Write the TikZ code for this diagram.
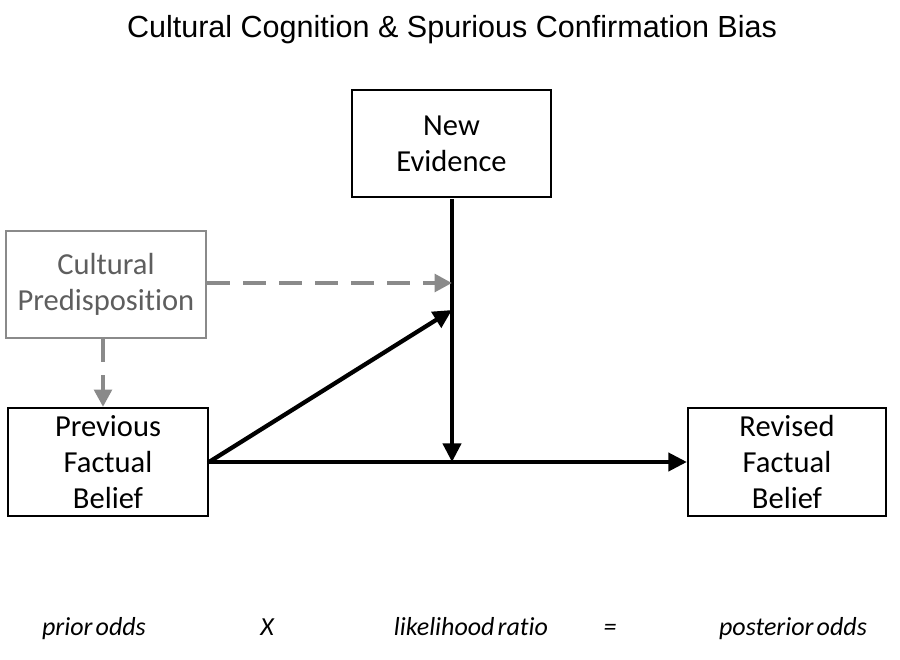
\documentclass[tikz,border=0pt]{standalone}
\usepackage{fontspec}
\setmainfont{Carlito}[Ligatures={NoCommon,TeX}]
\newfontfamily\titlefont{Liberation Sans}
\usetikzlibrary{arrows.meta}
\definecolor{graybox}{HTML}{8A8A8A}
\definecolor{graytext}{HTML}{5E5E5E}
\newcommand{\tsp}{\hspace{0.12em}}
\tikzset{
  box/.style={draw=black, line width=1.6pt, fill=white, align=center, inner sep=0pt,
    font=\fontsize{22.9pt}{27pt}\selectfont},
  graynode/.style={box, draw=graybox, text=graytext},
  blackarrow/.style={line width=3.2pt, -{Triangle[length=14pt,width=13.5pt]}},
  grayarrow/.style={line width=3.6pt, draw=graybox, dash pattern=on 17pt off 10pt,
    -{Triangle[length=13pt,width=13pt,fill=graybox]}},
  eqlabel/.style={font=\fontsize{19.5pt}{21pt}\selectfont\itshape, anchor=base},
}
\begin{document}
\begin{tikzpicture}[x=0.75pt,y=-0.75pt]
\useasboundingbox[fill=white] (0,0) rectangle (900,660);
\node[font=\titlefont\fontsize{22.9pt}{26pt}\selectfont] (title) at (452,30) {Cultural Cognition \& Spurious Confirmation Bias};
\node[box, minimum width=199*0.75pt, minimum height=107*0.75pt] (evid) at (451.5,143.5) {New\\Evidence};
\node[graynode, minimum width=200*0.75pt, minimum height=107*0.75pt] (cult) at (106,284.5) {Cultural\\Predisposition};
\node[box, minimum width=200*0.75pt, minimum height=108*0.75pt] (prev) at (108,462) {Previous\\Factual\\Belief};
\node[box, minimum width=198*0.75pt, minimum height=108*0.75pt] (rev) at (787,462) {Revised\\Factual\\Belief};
\coordinate (join) at (452,462);
\coordinate (dtip) at (452,283);
\coordinate (diagtip) at (452,310);
\draw[blackarrow, shorten <=0.8pt] (evid.south -| join) -- (join);
\draw[blackarrow] (prev.east) -- (rev.west);
\draw[blackarrow, line cap=round] (prev.east) -- (diagtip);
\draw[grayarrow] (cult.east |- dtip) -- (dtip);
\draw[grayarrow] (cult.south -| 103,0) -- (prev.north -| 103,0);
\node[eqlabel] (prior) at (94,635) {prior\tsp odds};
\node[eqlabel] (times) at (267,635) {X};
\node[eqlabel] (lik) at (471,635) {likelihood\tsp ratio};
\node[eqlabel] (eq) at (610,635) {=};
\node[eqlabel] (post) at (793,635) {posterior\tsp odds};
\end{tikzpicture}
\end{document}
